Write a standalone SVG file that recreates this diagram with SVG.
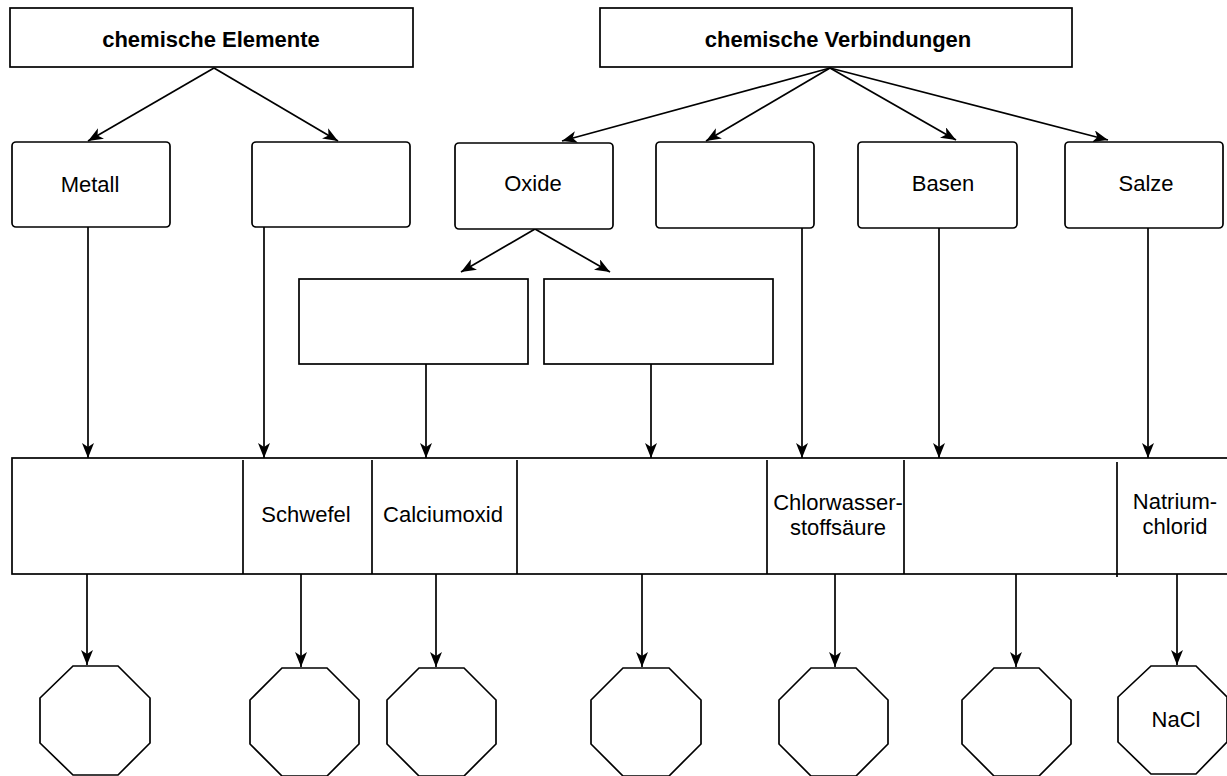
<svg xmlns="http://www.w3.org/2000/svg" width="1227" height="776" viewBox="0 0 1227 776">
<style>
.box{fill:#fff;stroke:#000;stroke-width:1.7}
.ln{fill:none;stroke:#000;stroke-width:1.7}
.arr{fill:none;stroke:#000;stroke-width:1.7;marker-end:url(#ah)}
.t{font-family:"Liberation Sans",Arial,sans-serif;font-size:22px;fill:#000;text-anchor:middle}
.b{font-weight:bold}
</style>
<defs>
<marker id="ah" markerUnits="userSpaceOnUse" markerWidth="17" markerHeight="13" refX="15" refY="6" orient="auto">
<path d="M0,0 L15,6 L0,12 L4,6 z" fill="#000"/>
</marker>
</defs>
<rect width="1227" height="776" fill="#fff"/>
<g id="connectors">
<line class="arr" x1="214" y1="68" x2="88" y2="141"/>
<line class="arr" x1="214" y1="68" x2="338" y2="141"/>
<line class="arr" x1="830" y1="68" x2="562" y2="141"/>
<line class="arr" x1="830" y1="68" x2="706" y2="141"/>
<line class="arr" x1="830" y1="68" x2="956" y2="140"/>
<line class="arr" x1="830" y1="68" x2="1108" y2="140"/>
<line class="arr" x1="535" y1="229" x2="461" y2="272"/>
<line class="arr" x1="535" y1="229" x2="610" y2="272"/>
<line class="arr" x1="88" y1="227" x2="88" y2="458"/>
<line class="arr" x1="264" y1="227" x2="264" y2="458"/>
<line class="arr" x1="426" y1="364" x2="426" y2="458"/>
<line class="arr" x1="651" y1="364" x2="651" y2="458"/>
<line class="arr" x1="802" y1="228" x2="802" y2="458"/>
<line class="arr" x1="939" y1="228" x2="939" y2="458"/>
<line class="arr" x1="1148" y1="228" x2="1148" y2="458"/>
<line class="arr" x1="87" y1="574" x2="87" y2="665"/>
<line class="arr" x1="301" y1="574" x2="301" y2="667"/>
<line class="arr" x1="436" y1="574" x2="436" y2="667"/>
<line class="arr" x1="642" y1="574" x2="642" y2="667"/>
<line class="arr" x1="835" y1="574" x2="835" y2="667"/>
<line class="arr" x1="1016" y1="574" x2="1016" y2="667"/>
<line class="arr" x1="1177" y1="574" x2="1177" y2="665"/>
</g>
<g id="elemente"><rect class="box" x="10" y="8" width="403" height="59"/><text class="t b" x="211" y="47">chemische Elemente</text></g>
<g id="verbindungen"><rect class="box" x="600" y="8" width="472" height="59"/><text class="t b" x="838" y="47">chemische Verbindungen</text></g>
<g id="metall"><rect class="box" x="12" y="142" width="158" height="85" rx="4"/><text class="t" x="90" y="192">Metall</text></g>
<g id="nichtmetall"><rect class="box" x="252" y="142" width="158" height="85" rx="4"/></g>
<g id="oxide"><rect class="box" x="455" y="143" width="158" height="86" rx="4"/><text class="t" x="533" y="191">Oxide</text></g>
<g id="saeuren"><rect class="box" x="656" y="142" width="158" height="86" rx="4"/></g>
<g id="basen"><rect class="box" x="858" y="142" width="159" height="86" rx="4"/><text class="t" x="943" y="191">Basen</text></g>
<g id="salze"><rect class="box" x="1065" y="142" width="158" height="86" rx="4"/><text class="t" x="1146" y="191">Salze</text></g>
<g id="oxid1"><rect class="box" x="299" y="279" width="229" height="85"/></g>
<g id="oxid2"><rect class="box" x="544" y="279" width="229" height="85"/></g>
<g id="beispiele">
<rect class="box" x="12" y="458" width="1230" height="116"/>
<line class="ln" x1="243" y1="460" x2="243" y2="574"/>
<line class="ln" x1="372" y1="460" x2="372" y2="574"/>
<line class="ln" x1="517" y1="460" x2="517" y2="574"/>
<line class="ln" x1="767" y1="460" x2="767" y2="574"/>
<line class="ln" x1="904" y1="460" x2="904" y2="574"/>
<line class="ln" x1="1117" y1="462" x2="1117" y2="577"/>
<text class="t" x="306" y="522">Schwefel</text>
<text class="t" x="443" y="522">Calciumoxid</text>
<text class="t" x="838" y="510">Chlorwasser-</text>
<text class="t" x="838" y="535">stoffsäure</text>
<text class="t" x="1175" y="509">Natrium-</text>
<text class="t" x="1175" y="534">chlorid</text>
</g>
<g id="okt1"><polygon class="box" points="73,666 118,666 150,698 150,743 118,775 73,775 40,743 40,698"/></g>
<g id="okt2"><polygon class="box" points="282,668 327,668 359,700 359,744 327,776 282,776 250,744 250,700"/></g>
<g id="okt3"><polygon class="box" points="419,668 464,668 496,700 496,744 464,776 419,776 387,744 387,700"/></g>
<g id="okt4"><polygon class="box" points="623,668 669,668 701,700 701,744 669,776 623,776 591,744 591,700"/></g>
<g id="okt5"><polygon class="box" points="811,668 856,668 888,700 888,744 856,776 811,776 779,744 779,700"/></g>
<g id="okt6"><polygon class="box" points="994,668 1039,668 1071,700 1071,744 1039,776 994,776 962,744 962,700"/></g>
<g id="okt7"><polygon class="box" points="1151,666 1196,666 1227,697 1227,742 1196,774 1151,774 1118,742 1118,697"/><text class="t" x="1176" y="727">NaCl</text></g>
</svg>
